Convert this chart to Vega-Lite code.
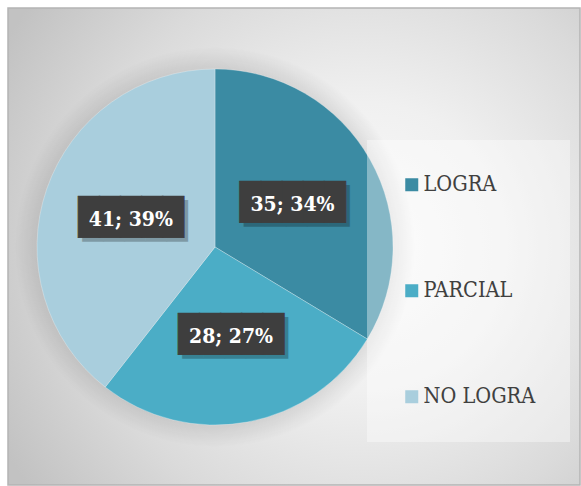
{
  "$schema": "https://vega.github.io/schema/vega-lite/v6.json",
  "width": 581,
  "height": 486,
  "autosize": {"type": "fit", "contains": "padding"},
  "padding": {"left": 7, "top": 7, "right": 0, "bottom": 0},
  "background": "#ffffff",
  "config": {"view": {"stroke": null}},
  "data": {
    "values": [
      {"cat": "LOGRA", "n": 35, "ord": 1, "label": "35; 34%"},
      {"cat": "PARCIAL", "n": 28, "ord": 2, "label": "28; 27%"},
      {"cat": "NO LOGRA", "n": 41, "ord": 3, "label": "41; 39%"}
    ]
  },
  "layer": [
    {
      "data": {"values": [{}]},
      "mark": {
        "type": "rect",
        "fill": {
          "gradient": "radial",
          "x1": 0.62, "y1": 0.5, "r1": 0,
          "x2": 0.62, "y2": 0.5, "r2": 0.72,
          "stops": [
            {"offset": 0, "color": "#fbfbfb"},
            {"offset": 0.35, "color": "#f0f0f0"},
            {"offset": 0.7, "color": "#dadada"},
            {"offset": 1, "color": "#c2c2c2"}
          ]
        },
        "stroke": "#b4b4b4",
        "strokeWidth": 1.5
      },
      "encoding": {
        "x": {"value": 0}, "x2": {"value": "width"},
        "y": {"value": 0}, "y2": {"value": "height"}
      }
    },
    {
      "data": {"values": [{}]},
      "mark": {
        "type": "arc",
        "theta": 0,
        "theta2": 6.2832,
        "outerRadius": 200,
        "xOffset": -79,
        "yOffset": 0.5,
        "fill": {
          "gradient": "radial",
          "x1": 0.5, "y1": 0.5, "r1": 0,
          "x2": 0.5, "y2": 0.5, "r2": 0.5,
          "stops": [
            {"offset": 0, "color": "rgba(0,0,0,0.10)"},
            {"offset": 0.88, "color": "rgba(0,0,0,0.10)"},
            {"offset": 1, "color": "rgba(0,0,0,0)"}
          ]
        }
      },
      "encoding": {}
    },
    {
      "mark": {
        "type": "arc",
        "outerRadius": 178,
        "xOffset": -79,
        "yOffset": 0.5,
        "stroke": "#ffffff",
        "strokeOpacity": 0.35,
        "strokeWidth": 0.8
      },
      "encoding": {
        "theta": {"field": "n", "type": "quantitative", "stack": true},
        "order": {"field": "ord", "type": "quantitative"},
        "color": {
          "field": "cat",
          "type": "nominal",
          "scale": {
            "domain": ["LOGRA", "PARCIAL", "NO LOGRA"],
            "range": ["#3b8ba3", "#4badc6", "#a9cedd"]
          },
          "legend": {
            "orient": "none",
            "legendX": 359,
            "legendY": 132,
            "title": null,
            "fillColor": "rgba(255,255,255,0.38)",
            "padding": 34,
            "symbolType": "square",
            "symbolSize": 169,
            "symbolStrokeWidth": 0,
            "symbolOpacity": 1,
            "labelFont": "DejaVu Serif Condensed",
            "labelFontSize": 21.5,
            "labelColor": "#404040",
            "labelOffset": 1,
            "rowPadding": 83,
            "labelLimit": 300
          }
        }
      }
    },
    {
      "mark": {
        "type": "text",
        "radius": 89,
        "xOffset": -79,
        "yOffset": 0.5,
        "dx": 4,
        "dy": 4,
        "font": "DejaVu Sans Mono",
        "fontSize": 35,
        "baseline": "middle",
        "align": "center",
        "fill": "#000000",
        "opacity": 0.25
      },
      "encoding": {
        "theta": {"field": "n", "type": "quantitative", "stack": true},
        "order": {"field": "ord", "type": "quantitative"},
        "detail": {"field": "cat", "type": "nominal"},
        "text": {"value": "█████"}
      }
    },
    {
      "mark": {
        "type": "text",
        "radius": 89,
        "xOffset": -79,
        "yOffset": 0.5,
        "font": "DejaVu Sans Mono",
        "fontSize": 35,
        "baseline": "middle",
        "align": "center",
        "fill": "#3e3e3e",
        "stroke": "#3e3e3e",
        "strokeWidth": 0.8
      },
      "encoding": {
        "theta": {"field": "n", "type": "quantitative", "stack": true},
        "order": {"field": "ord", "type": "quantitative"},
        "detail": {"field": "cat", "type": "nominal"},
        "text": {"value": "█████"}
      }
    },
    {
      "mark": {
        "type": "text",
        "radius": 89,
        "xOffset": -79,
        "yOffset": 0.5,
        "dy": 2,
        "font": "DejaVu Serif Condensed",
        "fontWeight": "bold",
        "fontSize": 21,
        "baseline": "middle",
        "align": "center",
        "fill": "#ffffff"
      },
      "encoding": {
        "theta": {"field": "n", "type": "quantitative", "stack": true},
        "order": {"field": "ord", "type": "quantitative"},
        "detail": {"field": "cat", "type": "nominal"},
        "text": {"field": "label", "type": "nominal"}
      }
    }
  ]
}
